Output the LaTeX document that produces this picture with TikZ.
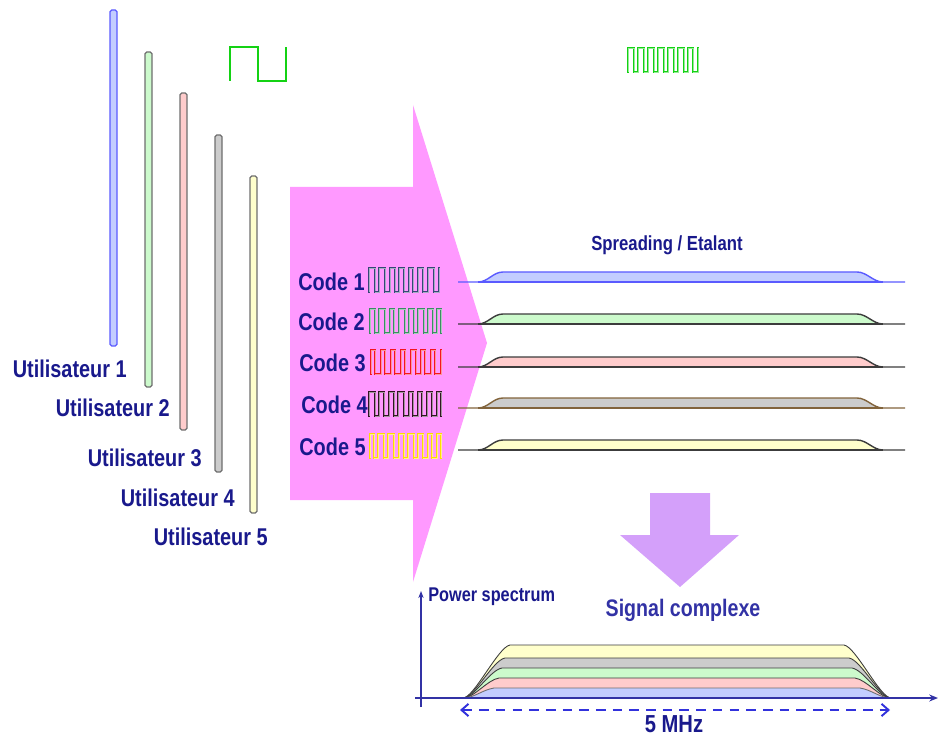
\documentclass[tikz,border=0pt]{standalone}
\usepackage{fontspec}
\setmainfont{Liberation Sans}[FakeStretch=0.82]
\usetikzlibrary{arrows.meta}
\definecolor{lblue}{RGB}{25,25,140}
\definecolor{axblue}{RGB}{50,50,165}
\definecolor{barblue}{RGB}{90,90,255}
\definecolor{bargray}{RGB}{110,110,110}
\definecolor{fillblue}{RGB}{195,205,255}
\definecolor{fillgreen}{RGB}{204,250,204}
\definecolor{fillpink}{RGB}{255,204,204}
\definecolor{fillgray}{RGB}{204,204,204}
\definecolor{fillyellow}{RGB}{255,255,204}
\definecolor{arrowpink}{RGB}{255,153,255}
\definecolor{arrowlilac}{RGB}{212,160,250}
\definecolor{wavegreen}{RGB}{20,210,20}
\definecolor{code1}{RGB}{55,70,120}
\definecolor{code2}{RGB}{60,140,100}
\definecolor{code3}{RGB}{245,20,30}
\definecolor{code4}{RGB}{50,20,35}
\definecolor{code5}{RGB}{255,220,0}
\definecolor{stripline}{RGB}{60,60,60}
\definecolor{brownline}{RGB}{130,100,60}
\definecolor{dashblue}{RGB}{50,50,220}

% square wave of chips: x, y, style, transitions
\newcommand{\chipwave}[4]{%
  \begin{scope}[shift={(#1,#2)}]
  \draw[#3] (0,12) -- (0,-12);
  \foreach \t [count=\k, remember=\t as \tp (initially 0)] in {#4} {
    \ifodd\k \def\ya{-12}\def\yb{12}\else\def\ya{12}\def\yb{-12}\fi
    \draw[#3] (\tp,\ya) -- (\t,\ya) -- (\t,\yb);
  }
  \end{scope}}

% spread spectrum strip: base y, fill, line
\newcommand{\spreadstrip}[3]{%
  \fill[#2] (478,#1) .. controls (488,#1) and (493,#1-10) .. (503,#1-10)
    -- (857,#1-10) .. controls (867,#1-10) and (873,#1) .. (883,#1) -- cycle;
  \draw[#3,line width=0.8pt] (458,#1) -- (478,#1) .. controls (488,#1) and (493,#1-10) .. (503,#1-10)
    -- (857,#1-10) .. controls (867,#1-10) and (873,#1) .. (883,#1) -- (905,#1);
  \draw[#3,line width=0.8pt] (478,#1) -- (883,#1);}

% stacked layer of the power spectrum: top y, left corner x, fill, line
\newcommand{\powerlayer}[4]{%
  \filldraw[fill=#3,draw=#4,line width=0.5pt] (463,698) .. controls (474,698) and (#2-12,#1+2) .. (#2,#1)
    -- ({1354-#2},#1) .. controls ({1354-#2+12},#1+2) and (880,698) .. (891,698) -- cycle;}

\begin{document}
\begin{tikzpicture}[x=0.02cm,y=-0.02cm,
  lbl/.style={font=\fontsize{13.8}{15}\selectfont\bfseries, text=lblue, inner sep=0pt},
  userbar/.style={draw=bargray, line width=0.7pt, rounded corners=1pt},
  codewave/.style={draw=#1, line width=0.4pt, double=#1!45!white, double distance=0.45pt, line cap=rect},
  axis/.style={draw=axblue, line width=1.1pt}]
\useasboundingbox (0,0) rectangle (939,736);

% users
\draw[userbar,draw=barblue,fill=fillblue] (110,10) rectangle (117,346);
\draw[userbar,fill=fillgreen] (145,52) rectangle (152,387);
\draw[userbar,fill=fillpink] (180,93) rectangle (187,430);
\draw[userbar,fill=fillgray] (215,135) rectangle (222,472);
\draw[userbar,fill=fillyellow] (250,176) rectangle (257,513);
\node[lbl,anchor=east] (u1) at (127,369) {Utilisateur 1};
\node[lbl,anchor=east] (u2) at (170,408) {Utilisateur 2};
\node[lbl,anchor=east] (u3) at (202,458) {Utilisateur 3};
\node[lbl,anchor=east] (u4) at (235,498) {Utilisateur 4};
\node[lbl,anchor=east] (u5) at (268,537) {Utilisateur 5};

% data bit and chips
\draw[wavegreen,line width=1.7pt] (230,81) -- (230,47) -- (258,47) -- (258,81) -- (286,81) -- (286,47);
\chipwave{628}{60}{codewave=wavegreen}{6,10,16,20,26,30,36,40,46,50,56,60,65,70}

% spreading arrow
\fill[arrowpink] (290,187) -- (413,187) -- (413,105) -- (487,343) -- (413,582) -- (413,500) -- (290,500) -- cycle;

% codes
\node[lbl,anchor=east] (c1) at (365,282) {Code 1};
\node[lbl,anchor=east] (c2) at (365,322) {Code 2};
\node[lbl,anchor=east] (c3) at (366,363) {Code 3};
\node[lbl,anchor=east] (c4) at (368,405) {Code 4};
\node[lbl,anchor=east] (c5) at (366,447) {Code 5};
\chipwave{369}{280}{codewave=code1}{6,10,16,21,26,30,35,40,44,49,54,59,65,70}
\chipwave{370}{321}{codewave=code2}{5,9,15,20,24,29,35,39,44,48,54,58,63,67,71}
\chipwave{371}{362}{codewave=code3}{4,10,14,20,24,30,34,40,45,50,54,60,64,70}
\chipwave{369}{404}{codewave=code4}{6,10,15,20,25,29,35,40,44,49,53,58,63,68,72}
\chipwave{370}{446}{codewave=code5}{4,8,14,18,24,29,34,38,44,48,53,58,62,67,71}

% spread signals
\node[lbl,font=\fontsize{11.6}{13}\selectfont\bfseries] (spread) at (667,245) {Spreading / Etalant};
\spreadstrip{282}{fillblue}{barblue}
\spreadstrip{324}{fillgreen}{stripline}
\spreadstrip{367}{fillpink}{stripline}
\spreadstrip{408}{fillgray}{brownline}
\spreadstrip{450}{fillyellow}{stripline}

% sum arrow
\fill[arrowlilac] (650,493) -- (710,493) -- (710,535) -- (739,535) -- (680,587) -- (620,535) -- (650,535) -- cycle;
\node[lbl,font=\fontsize{13.6}{15}\selectfont\bfseries,text=axblue] (sig) at (683,610) {Signal complexe};

% power spectrum
\powerlayer{645}{510}{fillyellow}{stripline}
\powerlayer{658}{505}{fillgray}{stripline}
\powerlayer{668}{502}{fillgreen}{stripline}
\powerlayer{678}{499}{fillpink}{stripline}
\powerlayer{688}{494}{fillblue}{bargray}
\coordinate (o) at (421,698);
\coordinate (ytop) at (421,591);
\coordinate (ybot) at (421,707);
\coordinate (xl) at (415,698);
\coordinate (xr) at (938,698);
\draw[axis,-{Stealth[length=4pt,width=3pt]}] (ybot) -- (ytop);
\draw[axis,-{Stealth[length=5pt,width=4pt]}] (xl) -- (xr);
\node[lbl,font=\fontsize{11.3}{13}\selectfont\bfseries,anchor=west] (ps) at (428,597) {Power spectrum};
\coordinate (bwl) at (460,710);
\coordinate (bwr) at (890,710);
\draw[dashblue,line width=1.1pt,dash pattern=on 5.5pt off 4pt,{Straight Barb[length=4pt,width=7pt]}-{Straight Barb[length=4pt,width=7pt]}] (bwl) -- (bwr);
\node[lbl,font=\fontsize{14}{15}\selectfont\bfseries] (bw) at (674,724) {5 MHz};
\end{tikzpicture}
\end{document}
